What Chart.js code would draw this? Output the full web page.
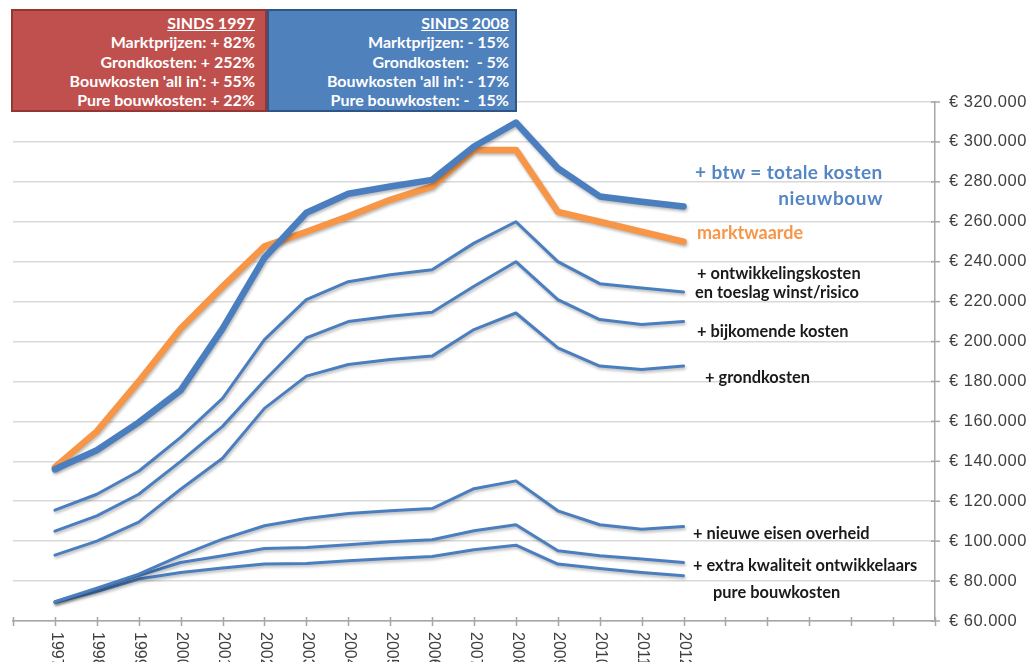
<!DOCTYPE html>
<html><head><meta charset="utf-8">
<script src="https://cdn.jsdelivr.net/npm/chart.js@4.4.0/dist/chart.umd.min.js"></script>
<style>
html,body{margin:0;padding:0;background:#fff;}
#wrap{position:relative;width:1031px;height:662px;overflow:hidden;background:#fff;}
canvas{position:absolute;left:0;top:0;}
.box{position:absolute;top:9px;height:103px;box-sizing:border-box;color:#fff;font:bold 16px Lato, sans-serif;text-align:right;line-height:19.3px;padding-top:2px;}
.red{left:11px;width:256px;background:#c0504d;border:2px solid #943634;padding-right:10px;}
.blue{left:267px;width:250px;background:#4f81bd;border:2px solid #2f5485;padding-right:6px;}
.u{text-decoration:underline;}
.ann{position:absolute;font:bold 16.4px Lato,sans-serif;color:#1a1a1a;white-space:nowrap;line-height:20px;}
</style></head>
<body>
<div id="wrap">
<canvas id="c" width="1031" height="662"></canvas>
<div class="box red"><span class="u">SINDS 1997</span><br>Marktprijzen: + 82%<br>Grondkosten: + 252%<br>Bouwkosten 'all in': + 55%<br>Pure bouwkosten: + 22%</div>
<div class="box blue"><span class="u">SINDS 2008</span><br>Marktprijzen: - 15%<br>Grondkosten:&nbsp; - 5%<br>Bouwkosten 'all in': - 17%<br>Pure bouwkosten: -&nbsp; 15%</div>
<div class="ann" style="left:695px;top:162px;font-size:19px;color:#5586c4;letter-spacing:0.4px;">+ btw = totale kosten</div>
<div class="ann" style="right:148px;top:188px;font-size:19px;color:#5586c4;letter-spacing:0.6px;">nieuwbouw</div>
<div class="ann" style="left:697px;top:222px;font-size:18px;color:#f79646;">marktwaarde</div>
<div class="ann" style="left:697px;top:263px;">+ ontwikkelingskosten</div>
<div class="ann" style="left:695px;top:282px;">en toeslag winst/risico</div>
<div class="ann" style="left:697px;top:321px;">+ bijkomende kosten</div>
<div class="ann" style="left:705px;top:367px;">+ grondkosten</div>
<div class="ann" style="left:693px;top:523px;">+ nieuwe eisen overheid</div>
<div class="ann" style="left:693px;top:555px;">+ extra kwaliteit ontwikkelaars</div>
<div class="ann" style="left:713px;top:582px;">pure bouwkosten</div>
</div>
<script>
const years = [1997,1998,1999,2000,2001,2002,2003,2004,2005,2006,2007,2008,2009,2010,2011,2012];
const totaleKosten = [136000,145500,159500,175500,206500,242000,264500,274000,277700,281000,297700,309700,286800,272700,270000,267700];
const marktwaarde = [137000,155000,180000,206500,227500,247700,255000,262700,271000,277700,296000,296000,265000,260000,255000,250000];
const ontwikkelingskosten = [115500,123500,135000,152000,171500,201000,221000,230000,233500,236000,249300,260000,240000,229000,226800,224800];
const bijkomendeKosten = [105000,112700,123500,140000,157500,180500,201800,210000,212700,214700,227700,240000,221000,211000,208500,210000];
const grondkosten = [93000,100000,109500,126000,141500,166500,182700,188500,191000,192700,206000,214300,196800,187700,186000,187700];
const nieuweEisen = [69700,76500,83500,92700,101000,107700,111300,113800,115200,116300,126300,130200,115200,108200,106000,107300];
const extraKwaliteit = [69500,76000,82700,89300,92700,96300,96800,98200,99700,100700,105200,108200,95200,92700,91000,89300];
const pureBouwkosten = [69300,74700,81000,84300,86500,88500,88800,90200,91300,92300,95700,98000,88500,86300,84300,82700];
const yTicks = {min:60000, max:320000, step:20000};
const xRange = {min:1996, max:2018};

const BLUE = '#4a7ebf', ORANGE = '#f79646', AXIS = '#a6a6a6';
const pts = arr => arr.map((v,i)=>({x:years[i], y:v}));
function ds(label, arr, color, w){
  return {label, data:pts(arr), borderColor:color, backgroundColor:color, borderWidth:w,
    pointRadius:0, tension:0, borderJoinStyle:'round', borderCapStyle:'round', fill:false};
}
const fmt = v => '€ ' + String(v).replace(/\B(?=(\d{3})+(?!\d))/g,'.');

const shadowPlugin = {id:'shadow',
  beforeDatasetsDraw(chart){const c=chart.ctx;c.save();c.shadowColor='rgba(0,0,0,0.28)';c.shadowBlur=3;c.shadowOffsetX=1;c.shadowOffsetY=2;},
  afterDatasetsDraw(chart){chart.ctx.restore();}
};
const spacingPlugin = {id:'spacing',
  beforeDraw(chart){chart.ctx.letterSpacing='0.5px';}
};
const axisPlugin = {id:'axisextras',
  afterDraw(chart){
    const c=chart.ctx, xs=chart.scales.x, ys=chart.scales.y, a=chart.chartArea;
    c.save();
    c.strokeStyle=AXIS;c.lineWidth=1.5;
    for(let v=xRange.min; v<=xRange.max; v++){
      const px=Math.round(xs.getPixelForValue(v))+0.5;
      c.beginPath();c.moveTo(px,a.bottom-4);c.lineTo(px,a.bottom+5);c.stroke();
    }
    for(let v=yTicks.min; v<=yTicks.max; v+=yTicks.step){
      const py=ys.getPixelForValue(v);
      c.beginPath();c.moveTo(a.right-4,py);c.lineTo(a.right+5,py);c.stroke();
    }
    c.letterSpacing='0px';
    c.font='16px "Liberation Sans", Arial, sans-serif';
    c.fillStyle='#404040';c.textAlign='left';c.textBaseline='middle';
    years.forEach(y=>{
      const px=xs.getPixelForValue(y);
      c.save();c.translate(px+1,a.bottom+11);c.rotate(Math.PI/2);c.fillText(String(y),0,0);c.restore();
    });
    c.restore();
  }
};

new Chart(document.getElementById('c'), {
  type:'line',
  data:{datasets:[
    ds('+ btw = totale kosten nieuwbouw', totaleKosten, BLUE, 6.5),
    ds('marktwaarde', marktwaarde, ORANGE, 6.5),
    ds('+ ontwikkelingskosten en toeslag winst/risico', ontwikkelingskosten, BLUE, 3),
    ds('+ bijkomende kosten', bijkomendeKosten, BLUE, 3),
    ds('+ grondkosten', grondkosten, BLUE, 3),
    ds('+ nieuwe eisen overheid', nieuweEisen, BLUE, 3),
    ds('+ extra kwaliteit ontwikkelaars', extraKwaliteit, BLUE, 3),
    ds('pure bouwkosten', pureBouwkosten, BLUE, 3)
  ]},
  options:{
    responsive:false, animation:false,
    layout:{padding:{left:13, top:102, right:0, bottom:0}},
    plugins:{legend:{display:false}, tooltip:{enabled:false}, title:{display:false}},
    scales:{
      x:{type:'linear', min:xRange.min, max:xRange.max,
        ticks:{display:false, stepSize:1, autoSkip:false},
        grid:{drawOnChartArea:false, drawTicks:false},
        border:{color:AXIS, width:1.5},
        afterFit(s){s.height=41;}
      },
      y:{type:'linear', position:'right', min:yTicks.min, max:yTicks.max,
        ticks:{stepSize:yTicks.step, callback:v=>fmt(v), color:'#404040', padding:14,
          font:{family:'"Liberation Sans", Arial, sans-serif', size:16.5}},
        grid:{color:'#d9d9d9', lineWidth:1.5, drawTicks:false},
        border:{color:AXIS, width:1.5},
        afterFit(s){s.width=96;}
      }
    }
  },
  plugins:[spacingPlugin, shadowPlugin, axisPlugin]
});
</script>
</body></html>
